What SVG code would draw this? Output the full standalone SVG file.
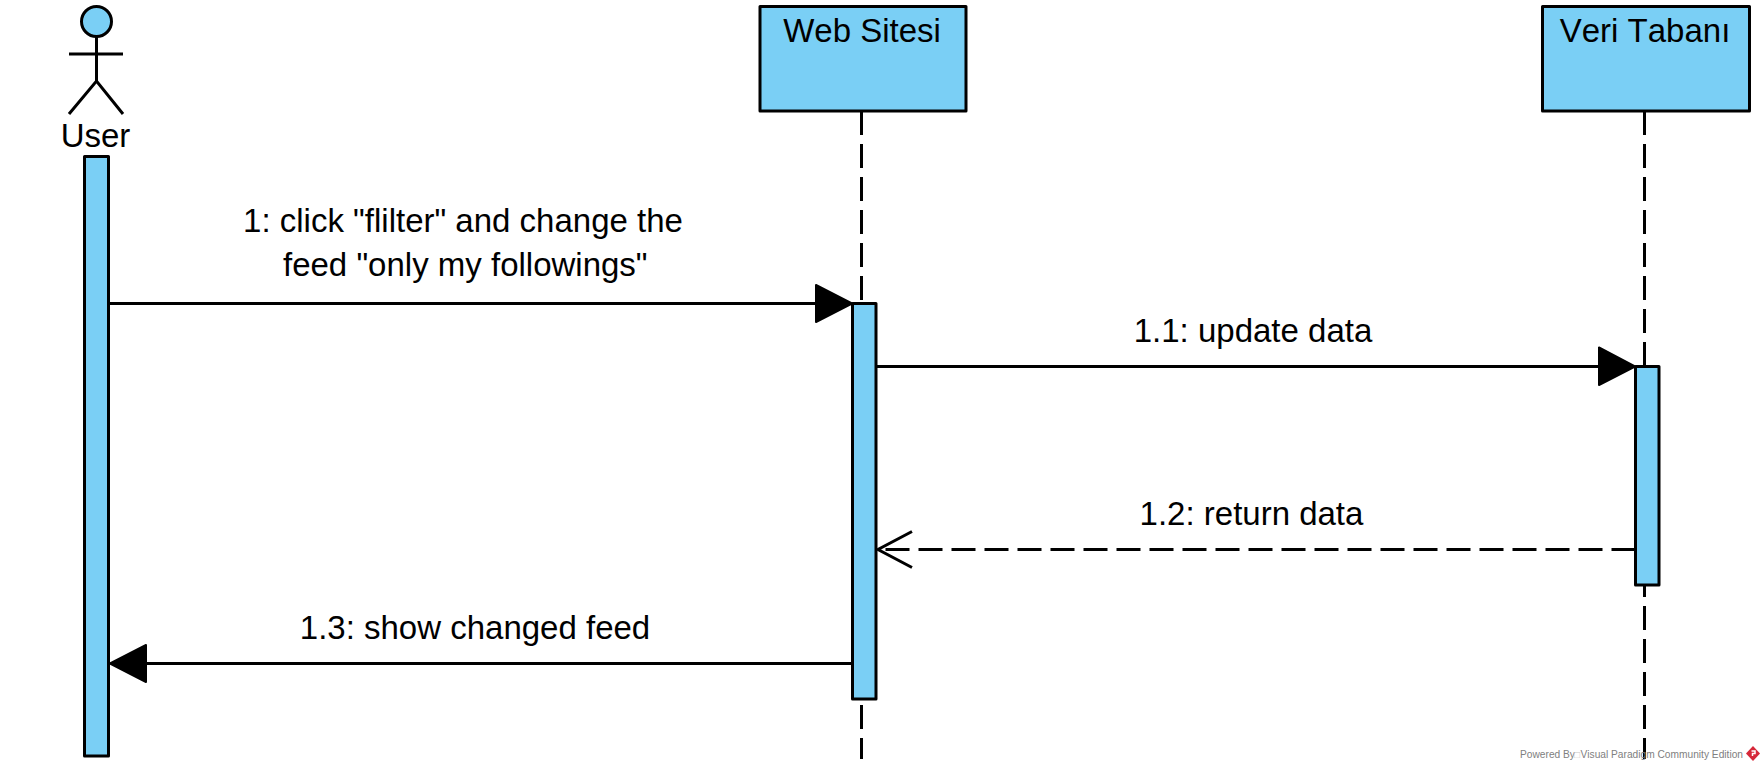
<svg xmlns="http://www.w3.org/2000/svg" width="1764" height="771" viewBox="0 0 1764 771">
<style>
.b{fill:#7acff5;stroke:#000;stroke-width:3;stroke-linejoin:round}
.l{fill:none;stroke:#000;stroke-width:3}
.d{fill:none;stroke:#000;stroke-width:3;stroke-dasharray:24 9}
.h{fill:#000;stroke:#000;stroke-width:2;stroke-linejoin:round}
.t{font-family:"Liberation Sans",Arial,sans-serif;font-size:33px;fill:#000;text-anchor:middle;font-kerning:none}
.w{font-family:"Liberation Sans",Arial,sans-serif;font-size:10.200px;fill:#808080;font-kerning:none}
</style>
<rect width="1764" height="771" fill="#fff"/>
<g id="lifelines">
<path class="d" d="M861.5 111V759"/>
<path class="d" d="M1644.5 111V759"/>
</g>
<g id="user">
<circle class="b" cx="96.500" cy="21.500" r="15"/>
<path class="l" d="M96.500 37V81M69 54H123M69 114L96.500 81L123 114"/>
<text class="t" x="95.500" y="146.500">User</text>
<rect class="b" x="84.500" y="156.500" width="24" height="599.500"/>
</g>
<g id="web-sitesi">
<rect class="b" x="760" y="6.500" width="206" height="104.500"/>
<text class="t" x="862" y="41.500">Web Sitesi</text>
<rect class="b" x="852.500" y="303.500" width="23.500" height="395.500"/>
</g>
<g id="veri-tabani">
<rect class="b" x="1542.500" y="6.500" width="207" height="104.500"/>
<text class="t" x="1645" y="41.500">Veri Tabanı</text>
<rect class="b" x="1635.500" y="366.500" width="23.500" height="218.500"/>
</g>
<g id="connectors">
<path class="l" d="M110 303.500H816"/>
<path class="h" d="M816 285V322L852 303.500Z"/>
<path class="l" d="M877 366.500H1599"/>
<path class="h" d="M1599 347.500V385L1635 366.500Z"/>
<path class="d" d="M1635.500 549.500H880"/>
<path class="l" d="M912 531.500L878 549.500L912 567.500"/>
<path class="l" d="M851 663.500H146"/>
<path class="h" d="M146 645V682L110 663.500Z"/>
</g>
<g id="labels">
<text class="t" x="463" y="232">1: click "flilter" and change the</text>
<text class="t" x="465.300" y="276">feed "only my followings"</text>
<text class="t" x="1253" y="342">1.1: update data</text>
<text class="t" x="1251.500" y="525">1.2: return data</text>
<text class="t" x="475" y="638.500">1.3: show changed feed</text>
</g>
<g id="watermark">
<text class="w" y="758"><tspan x="1520">Powered By</tspan><tspan x="1574" fill="#c8c8c8">□</tspan><tspan x="1580.500">Visual Paradigm Community Edition</tspan></text>
<path d="M1753 746L1760 753.500L1753 761L1746 753.500Z" fill="#d62839"/>
<path d="M1751.500 751H1755V753.500H1752.500V756" fill="none" stroke="#fff" stroke-width="1.500"/>
</g>
</svg>
